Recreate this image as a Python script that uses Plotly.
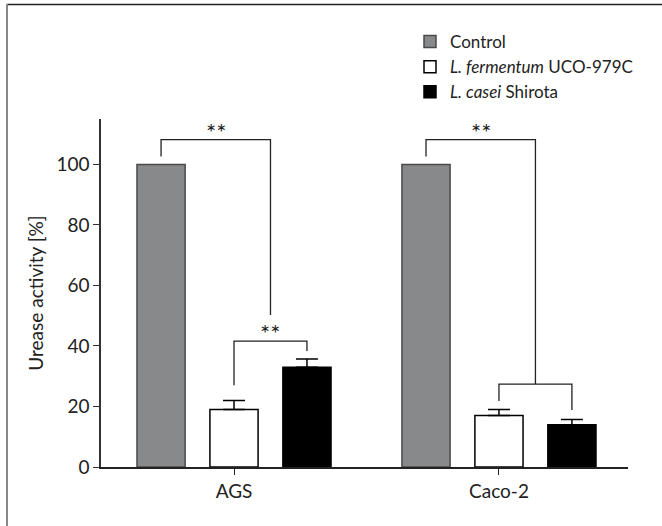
import plotly.graph_objects as go

# ---- data ----
groups = ["AGS", "Caco-2"]
series_names = ["Control", "<i>L. fermentum</i> UCO-979C", "<i>L. casei</i> Shirota"]
control = [100, 100]
fermentum = [19, 17]
fermentum_err = [3, 2]
casei = [33, 14]
casei_err = [2.7, 1.7]

# significance brackets: (group, left bar, right bar or "mid12"), level, left leg end, right leg end, label
brackets = [
    ("AGS", 0, "mid12", 108.2, 102.6, 50.2, "**"),
    ("AGS", 1, 2, 41.6, 27.0, 38.3, "**"),
    ("Caco-2", 0, "mid12", 108.2, 102.6, 27.4, "**"),
    ("Caco-2", 1, 2, 27.4, 21.8, 18.8, ""),
]

FONT = "Lato"
bargap = 0.174
bargroupgap = 0.34
slot = (1 - bargap) / 3

fig = go.Figure()
fig.add_bar(x=groups, y=control, name=series_names[0],
            marker=dict(color="#88898b", line=dict(color="#4a4a4a", width=1.5)))
fig.add_bar(x=groups, y=fermentum, name=series_names[1],
            marker=dict(color="white", line=dict(color="black", width=1.5)),
            error_y=dict(type="data", symmetric=False, array=fermentum_err,
                         arrayminus=[0, 0], color="black", thickness=1.5, width=11))
fig.add_bar(x=groups, y=casei, name=series_names[2],
            marker=dict(color="black", line=dict(color="black", width=1.5)),
            error_y=dict(type="data", symmetric=False, array=casei_err,
                         arrayminus=[0, 0], color="black", thickness=1.5, width=11))


def bar_x(g, k):
    gi = groups.index(g)
    if k == "mid12":
        return gi + 0.5 * slot
    return gi + (k - 1) * slot


shapes = []
annotations = []
for g, a, b, lvl, ya, yb, lab in brackets:
    xa, xb = bar_x(g, a), bar_x(g, b)
    shapes.append(dict(type="path", xref="x", yref="y",
                       path=f"M {xa},{ya} L {xa},{lvl} L {xb},{lvl} L {xb},{yb}",
                       line=dict(color="#222", width=1.3)))
    if lab:
        annotations.append(dict(x=(xa + xb) / 2, y=lvl, xref="x", yref="y",
                                text=lab, showarrow=False, yanchor="bottom",
                                yshift=-8, font=dict(family=FONT, size=24, color="#222")))

# outer frame (left and top edges)
L, R, T, B = 101, 628, 119, 467
pw, ph = R - L, B - T
fx = lambda px: (px - L) / pw
fy = lambda py: (B - py) / ph
shapes.append(dict(type="line", xref="paper", yref="paper",
                   x0=fx(7), x1=fx(662), y0=fy(4.5), y1=fy(4.5),
                   line=dict(color="#222", width=1.5)))
shapes.append(dict(type="line", xref="paper", yref="paper",
                   x0=fx(7), x1=fx(7), y0=fy(4), y1=fy(526),
                   line=dict(color="#888", width=2)))

fig.update_layout(
    width=662, height=526,
    margin=dict(l=L, r=662 - R, t=T, b=526 - B),
    paper_bgcolor="white", plot_bgcolor="white",
    barmode="group", bargap=bargap, bargroupgap=bargroupgap,
    font=dict(family=FONT, size=19, color="#222"),
    showlegend=True,
    legend=dict(x=fx(410), y=fy(24), xanchor="left", yanchor="top",
                font=dict(family=FONT, size=17, color="#222"),
                bgcolor="rgba(0,0,0,0)", traceorder="normal"),
    shapes=shapes, annotations=annotations,
    xaxis=dict(range=[-0.502, 1.487], showline=True, linecolor="#222", linewidth=1.5,
               ticks="outside", ticklen=6, tickwidth=1.3, tickcolor="#222",
               showgrid=False, zeroline=False, tickfont=dict(size=19)),
    yaxis=dict(range=[0, 115], showline=True, linecolor="#333", linewidth=1.5,
               ticks="outside", ticklen=6, tickwidth=1.3, tickcolor="#333",
               tickvals=[0, 20, 40, 60, 80, 100], showgrid=False, zeroline=False,
               tickfont=dict(size=19),
               title=dict(text="Urease activity [%]", font=dict(size=19), standoff=8)),
)

fig.write_html("out.html")
